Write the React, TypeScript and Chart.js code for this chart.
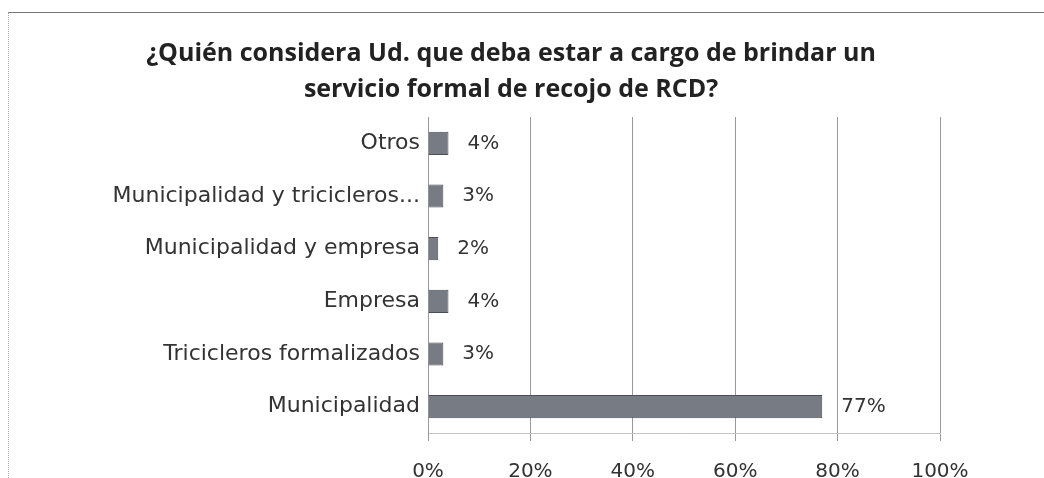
import React, { useEffect, useRef } from "react";
import { Chart, registerables } from "chart.js";

Chart.register(...registerables);

const titleLines = [
  "¿Quién considera Ud. que deba estar a cargo de brindar un",
  "servicio formal de recojo de RCD?",
];
const categories = [
  "Otros",
  "Municipalidad y tricicleros...",
  "Municipalidad y empresa",
  "Empresa",
  "Tricicleros formalizados",
  "Municipalidad",
];
const values = [4, 3, 2, 4, 3, 77];
const xTicks = [0, 20, 40, 60, 80, 100];

const dataLabelPlugin = {
  id: "dataLabels",
  afterDatasetsDraw(chart: any) {
    const ctx = chart.ctx;
    const meta = chart.getDatasetMeta(0);
    ctx.save();
    ctx.font = "20px 'DejaVu Sans'";
    ctx.fillStyle = "#333";
    ctx.textAlign = "left";
    ctx.textBaseline = "middle";
    meta.data.forEach((bar: any, i: number) => {
      ctx.fillText(values[i] + "%", bar.x + 19, bar.y);
    });
    ctx.restore();
  },
};

export default function App() {
  const ref = useRef<HTMLCanvasElement>(null);
  useEffect(() => {
    if (!ref.current) return;
    const chart = new Chart(ref.current, {
      type: "bar",
      data: {
        labels: categories,
        datasets: [
          {
            data: values,
            backgroundColor: "#777b83",
            borderColor: "#4a4e55",
            borderWidth: 1,
            barPercentage: 0.55,
            categoryPercentage: 0.8,
          },
        ],
      },
      options: {
        indexAxis: "y",
        animation: false,
        responsive: true,
        maintainAspectRatio: false,
        layout: { padding: { left: 0, right: 31, top: 0, bottom: 0 } },
        plugins: {
          legend: { display: false },
          tooltip: { enabled: false },
          title: {
            display: true,
            text: titleLines,
            color: "#222",
            font: { family: "'Open Sans'", size: 25, weight: "bold", lineHeight: 1.44 },
            padding: { top: 23, bottom: 9 },
          },
        },
        scales: {
          x: {
            min: 0,
            max: 100,
            afterBuildTicks(scale: any) {
              scale.ticks = xTicks.map((v) => ({ value: v }));
            },
            afterFit(scale: any) {
              scale.height = 45;
              scale.paddingRight = 104;
              scale.paddingLeft = 0;
            },
            ticks: {
              color: "#333",
              font: { family: "'DejaVu Sans'", size: 20 },
              padding: 19,
              maxRotation: 0,
              callback: (v: any) => v + "%",
            },
            grid: {
              color: "#9a9a9a",
              lineWidth: 1,
              drawTicks: true,
              tickLength: 8,
            },
            border: { display: true, color: "#c4c4c4" },
          },
          y: {
            afterFit(scale: any) {
              scale.width = 419;
            },
            ticks: {
              color: "#333",
              font: { family: "'DejaVu Sans'", size: 22 },
              padding: 8,
            },
            grid: { display: false, drawTicks: false },
            border: { display: true, color: "#9a9a9a" },
          },
        },
      },
      plugins: [dataLabelPlugin],
    });
    return () => chart.destroy();
  }, []);
  return (
    <div
      style={{
        position: "fixed",
        left: 8,
        top: 12,
        width: 1036,
        height: 466,
        boxSizing: "border-box",
        borderTop: "1px solid #777",
        borderLeft: "1px dotted #aaa",
        background: "#fff",
      }}
    >
      <canvas ref={ref} />
    </div>
  );
}
